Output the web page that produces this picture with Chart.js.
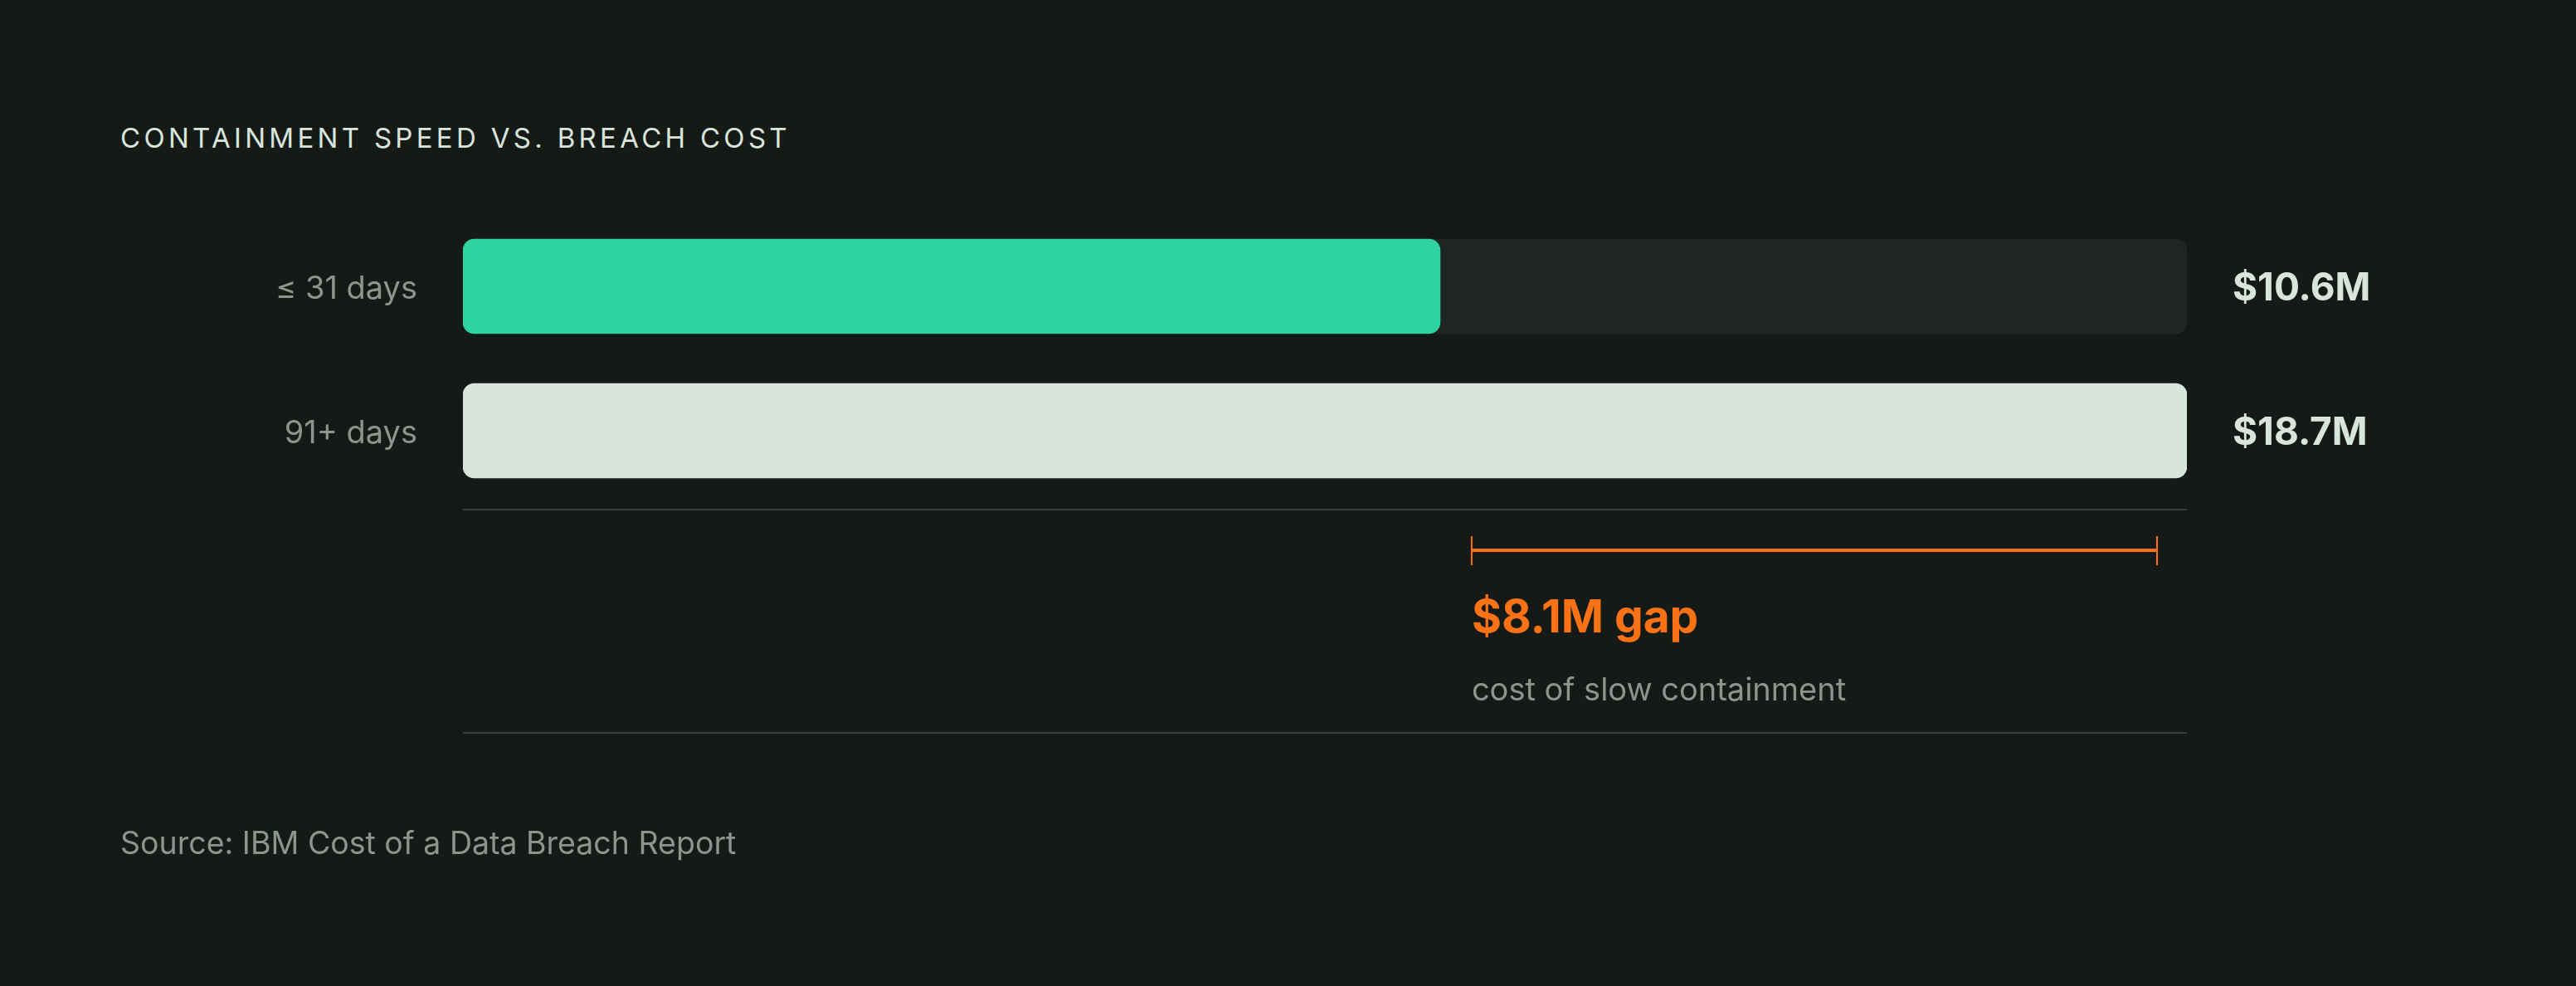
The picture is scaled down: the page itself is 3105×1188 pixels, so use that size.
<!DOCTYPE html>
<html>
<head>
<meta charset="utf-8">
<script src="https://cdn.jsdelivr.net/npm/chart.js@4.4.1/dist/chart.umd.min.js"></script>
<style>
html, body { margin: 0; padding: 0; background: #161a17; }
#wrap { position: relative; width: 3105px; height: 1188px; overflow: hidden; }
#title { position: absolute; left: 145px; top: 150px; font: 400 33px Inter, sans-serif; line-height: 1; letter-spacing: 4.3px; color: #d8e5dc; white-space: nowrap; }
#source { position: absolute; left: 145px; top: 997px; font: 400 37.5px Inter, sans-serif; line-height: 1; color: #8a958e; white-space: nowrap; }
#chart { position: absolute; left: 0; top: 0; }
</style>
</head>
<body>
<div id="wrap">
  <div id="title">CONTAINMENT SPEED VS. BREACH COST</div>
  <canvas id="chart" width="3105" height="1188"></canvas>
  <div id="source">Source: IBM Cost of a Data Breach Report</div>
</div>
<script>
// data ($M)
var categories = ['≤ 31 days', '91+ days'];
var costValues = [10.6, 18.7];
var valueLabels = ['$10.6M', '$18.7M'];
var scaleMax = 18.7;
var gapNote = 'cost of slow containment';

var barColors = ['#2ed3a0', '#d8e5dc'];
var trackColor = '#1f2622';
var lightText = '#d8e5dc';
var greyText = '#8a958e';
var orange = '#f97316';
var ruleColor = '#383e3a';

// labels, rules and the gap bracket under the bars
var annotations = {
    id: 'annotations',
    afterDraw: function(chart) {
        var ctx = chart.ctx;
        var area = chart.chartArea;
        var xs = chart.scales.x;
        var ys = chart.scales.y;

        ctx.save();

        // values to the right of the track
        ctx.fillStyle = lightText;
        ctx.font = '700 46px Inter, sans-serif';
        ctx.textAlign = 'left';
        ctx.textBaseline = 'alphabetic';
        valueLabels.forEach(function(txt, i) {
            var y = ys.getPixelForValue(i);
            ctx.fillText(txt, area.right + 55, y + 46 * 0.36);
        });

        // top and bottom rules
        ctx.strokeStyle = ruleColor;
        ctx.lineWidth = 2;
        var topRule = area.bottom + 8;
        var bottomRule = area.bottom + 277;
        ctx.beginPath();
        ctx.moveTo(area.left, topRule);
        ctx.lineTo(area.right, topRule);
        ctx.moveTo(area.left, bottomRule);
        ctx.lineTo(area.right, bottomRule);
        ctx.stroke();

        // gap bracket
        var x1 = xs.getPixelForValue(costValues[0]) + 38;
        var x2 = xs.getPixelForValue(costValues[1]) - 36;
        var by = area.bottom + 57;
        ctx.strokeStyle = orange;
        ctx.lineWidth = 4;
        ctx.beginPath();
        ctx.moveTo(x1, by);
        ctx.lineTo(x2, by);
        ctx.stroke();
        ctx.lineWidth = 2;
        ctx.beginPath();
        ctx.moveTo(x1, by - 17);
        ctx.lineTo(x1, by + 18);
        ctx.moveTo(x2, by - 17);
        ctx.lineTo(x2, by + 18);
        ctx.stroke();

        var gap = (costValues[1] - costValues[0]).toFixed(1);
        ctx.fillStyle = orange;
        ctx.font = '700 55px Inter, sans-serif';
        ctx.fillText('$' + gap + 'M gap', x1, area.bottom + 136 + 55 * 0.36);

        ctx.fillStyle = greyText;
        ctx.font = '400 38px Inter, sans-serif';
        ctx.fillText(gapNote, x1, area.bottom + 224 + 38 * 0.36);

        ctx.restore();
    }
};

var trackValues = categories.map(function() { return scaleMax; });

var ctx = document.getElementById('chart').getContext('2d');
var chart = new Chart(ctx, {
    type: 'bar',
    data: {
        labels: categories,
        datasets: [
            {
                label: 'Cost',
                data: costValues,
                backgroundColor: barColors,
                borderRadius: 14,
                borderSkipped: false,
                barThickness: 114,
                grouped: false,
                order: 1
            },
            {
                label: 'Track',
                data: trackValues,
                backgroundColor: trackColor,
                borderRadius: 14,
                borderSkipped: false,
                barThickness: 114,
                grouped: false,
                order: 2
            }
        ]
    },
    options: {
        indexAxis: 'y',
        responsive: false,
        animation: false,
        devicePixelRatio: 1,
        layout: { padding: { top: 258, bottom: 582, right: 469, left: 0 } },
        plugins: {
            legend: { display: false },
            tooltip: { enabled: false }
        },
        scales: {
            x: { display: false, min: 0, max: scaleMax },
            y: {
                grid: { display: false, drawTicks: false },
                border: { display: false },
                ticks: {
                    color: greyText,
                    font: { family: 'Inter', size: 38 },
                    padding: 55,
                    labelOffset: 4
                },
                afterFit: function(scale) { scale.width = 558; }
            }
        }
    },
    plugins: [annotations]
});
</script>
</body>
</html>
